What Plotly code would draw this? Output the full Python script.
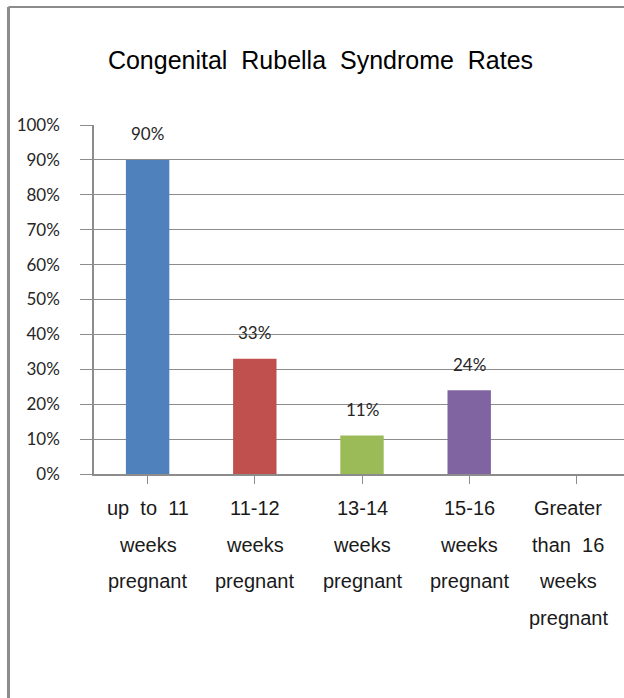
import plotly.graph_objects as go

categories = ["up to 11 weeks pregnant", "11-12 weeks pregnant", "13-14 weeks pregnant",
              "15-16 weeks pregnant", "Greater than 16 weeks pregnant"]
label_lines = [["up\u00a0\u00a0to\u00a0\u00a011", "weeks", "pregnant"],
               ["11-12", "weeks", "pregnant"],
               ["13-14", "weeks", "pregnant"],
               ["15-16", "weeks", "pregnant"],
               ["Greater", "than\u00a0\u00a016", "weeks", "pregnant"]]
values = [90, 33, 11, 24, None]
bar_colors = ["#4F81BD", "#C0504D", "#9BBB59", "#8064A2", "#4BACC6"]
y_ticks = [0, 10, 20, 30, 40, 50, 60, 70, 80, 90, 100]
y_tick_text = ["0%", "10%", "20%", "30%", "40%", "50%", "60%", "70%", "80%", "90%", "100%"]
title_text = "Congenital\u00a0\u00a0Rubella\u00a0\u00a0Syndrome\u00a0\u00a0Rates"

W, H = 624, 698
L, R, T, B = 94, 0, 125, 224
cat_px = 107.2
x_max = -0.5 + (W - L) / cat_px

fig = go.Figure()
fig.add_trace(go.Bar(
    x=list(range(len(categories))), y=values,
    marker=dict(color=bar_colors, line=dict(width=0)),
    width=0.405, hoverinfo="skip",
))

annotations = []
# data labels above the bars
for i, v in enumerate(values):
    if v is None:
        continue
    annotations.append(dict(
        x=i, y=v, xref="x", yref="y", text=f"{v}%", showarrow=False,
        yshift=26, yanchor="middle",
        font=dict(family="Lato", size=17, color="#262626"),
    ))
# category labels (Excel-style wide line spacing)
for i, lines in enumerate(label_lines):
    xs = -8 if i == len(label_lines) - 1 else 0  # last label kept inside chart area
    for j, line in enumerate(lines):
        annotations.append(dict(
            x=i, y=0, xref="x", yref="y", text=line, showarrow=False,
            yshift=-(34 + 36.5 * j), xshift=xs, yanchor="middle",
            font=dict(family="Liberation Sans", size=20, color="#1a1a1a"),
        ))

pw = W - L - R
ph = H - T - B
bx0 = (8.5 - L) / pw
by1 = (H - B - 7) / ph
by0 = (H - B - H) / ph
shapes = [
    dict(type="line", xref="paper", yref="paper", x0=bx0, x1=1.05, y0=by1, y1=by1,
         line=dict(color="#8c8c8c", width=2)),
    dict(type="line", xref="paper", yref="paper", x0=bx0, x1=bx0, y0=by0 - 0.02, y1=by1,
         line=dict(color="#8c8c8c", width=3)),
]

fig.update_layout(
    width=W, height=H, margin=dict(l=L, r=R, t=T, b=B, autoexpand=False),
    paper_bgcolor="white", plot_bgcolor="white", showlegend=False,
    title=dict(text=title_text, x=320.5 / W, xanchor="center", xref="container",
               y=1 - 60 / H, yanchor="middle", yref="container",
               font=dict(family="Liberation Sans", size=25, color="#000000")),
    xaxis=dict(range=[-0.5, x_max], tickmode="array", tickvals=list(range(5)),
               showticklabels=False, ticks="outside", tickson="boundaries", ticklen=8,
               tickcolor="#8c8c8c", showline=True, linecolor="#8c8c8c", linewidth=1.5,
               showgrid=False, zeroline=False, fixedrange=True),
    yaxis=dict(range=[0, 100], tickmode="array", tickvals=y_ticks, ticktext=y_tick_text,
               ticks="outside", ticklen=12, tickcolor="#8c8c8c", ticklabelstandoff=17,
               showline=True, linecolor="#8c8c8c", linewidth=1.5,
               showgrid=True, gridcolor="#8c8c8c", gridwidth=1.2, zeroline=False,
               tickfont=dict(family="Lato", size=17, color="#262626"), fixedrange=True),
    annotations=annotations, shapes=shapes,
)

fig.write_html("out.html", config={"displayModeBar": False},
               post_script="document.body.style.margin='0';")
